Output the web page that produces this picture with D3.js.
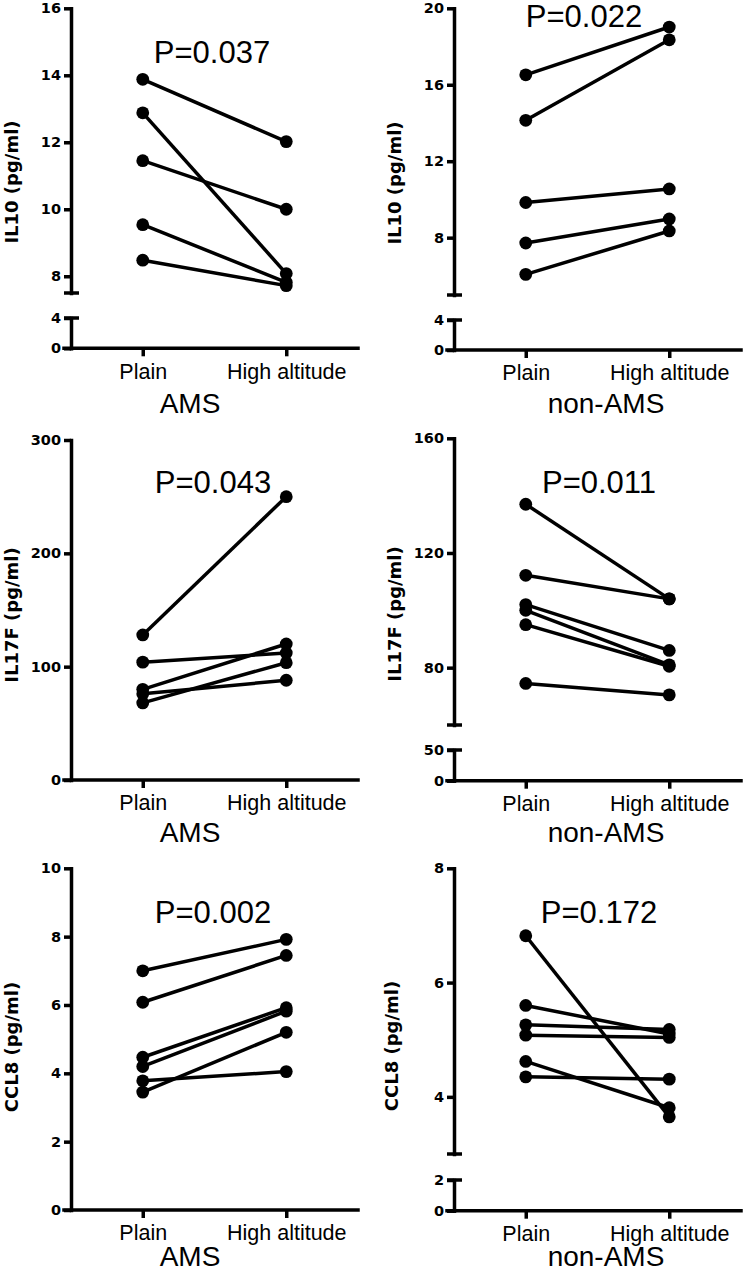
<!DOCTYPE html>
<html>
<head>
<meta charset="utf-8">
<script src="https://cdn.jsdelivr.net/npm/d3@7"></script>
<style>
  html, body { margin: 0; padding: 0; background: #fff; }
  svg { display: block; }
</style>
</head>
<body>
<svg id="chart" width="744" height="1272"></svg>
<script>
// ---------------- DATA ----------------
const groups = ["Plain", "High altitude"];
const conditions = ["AMS", "non-AMS", "AMS", "non-AMS", "AMS", "non-AMS"];
const yTitles = ["IL10 (pg/ml)", "IL10 (pg/ml)", "IL17F (pg/ml)", "IL17F (pg/ml)", "CCL8 (pg/ml)", "CCL8 (pg/ml)"];
const pLabels = ["P=0.037", "P=0.022", "P=0.043", "P=0.011", "P=0.002", "P=0.172"];

// paired values: plain[i] -> high[i]
const il10AmsPlain = [13.88, 12.88, 11.45, 9.54, 8.48];
const il10AmsHigh  = [12.02, 8.08, 10.0, 7.82, 7.72];
const il10NonPlain = [16.52, 14.14, 9.84, 7.72, 6.08];
const il10NonHigh  = [19.02, 18.35, 10.55, 8.98, 8.35];
const il17AmsPlain = [128, 104, 80, 76, 68];
const il17AmsHigh  = [250, 112, 120, 88, 103.5];
const il17NonPlain = [137, 112.2, 102, 100, 95, 74.5];
const il17NonHigh  = [104, 104, 86, 81, 80.5, 70.5];
const ccl8AmsPlain = [7.0, 6.08, 4.47, 4.2, 3.78, 3.45];
const ccl8AmsHigh  = [7.92, 7.45, 5.92, 5.82, 4.05, 5.2];
const ccl8NonPlain = [6.82, 5.6, 5.26, 5.08, 4.62, 4.35];
const ccl8NonHigh  = [3.65, 5.1, 5.18, 5.04, 3.81, 4.31];

// axis domains and ticks (upper segment / lower segment of broken axes)
const upperDomains = [[7.5, 16], [5, 20], [0, 300], [60, 160], [0, 10], [3, 8]];
const upperTicks = [[8, 10, 12, 14, 16], [8, 12, 16, 20], [0, 100, 200, 300], [80, 120, 160], [0, 2, 4, 6, 8, 10], [4, 6, 8]];
const lowerDomains = [[0, 4], [0, 4], null, [0, 50], null, [0, 2]];
const lowerTicks = [[0, 4], [0, 4], null, [0, 50], null, [0, 2]];

const plainSeries = [il10AmsPlain, il10NonPlain, il17AmsPlain, il17NonPlain, ccl8AmsPlain, ccl8NonPlain];
const highSeries  = [il10AmsHigh, il10NonHigh, il17AmsHigh, il17NonHigh, ccl8AmsHigh, ccl8NonHigh];

// ---------------- LAYOUT ----------------
const layout = [
  { ax: 71,  top: 8.3,   upBottom: 293,  lowTop: 318,  zero: 348.3, pX: 212, pY: 63,  condX: 190, condY: 413, titleX: 12,  titleY: 182 },
  { ax: 454, top: 8.3,   upBottom: 295,  lowTop: 320,  zero: 350,   pX: 584, pY: 27,  condX: 606, condY: 413, titleX: 395, titleY: 183 },
  { ax: 71,  top: 440,   upBottom: 780,  lowTop: null, zero: 780,   pX: 213, pY: 493, condX: 190, condY: 842, titleX: 12,  titleY: 615 },
  { ax: 454, top: 438.3, upBottom: 725,  lowTop: 750,  zero: 780.7, pX: 599, pY: 493, condX: 606, condY: 842, titleX: 395, titleY: 614 },
  { ax: 71,  top: 868.3, upBottom: 1210, lowTop: null, zero: 1210,  pX: 213, pY: 923, condX: 190, condY: 1266, titleX: 12, titleY: 1047 },
  { ax: 454, top: 868.3, upBottom: 1154, lowTop: 1180, zero: 1210.7, pX: 599, pY: 923, condX: 606, condY: 1266, titleX: 392, titleY: 1046 }
];

const svg = d3.select("#chart");
const SANS = "'Liberation Sans', Arial, sans-serif";
const BOLD = "'DejaVu Sans', Verdana, sans-serif";
const LW = 3.5;
const R = 6.4;

layout.forEach((L, i) => {
  const g = svg.append("g");
  const xScale = d3.scalePoint().domain(groups).range([L.ax, L.ax + 287]).padding(0.5);
  const yUp = d3.scaleLinear().domain(upperDomains[i]).range([L.upBottom, L.top]);

  // Upper y axis
  const axUp = g.append("g").attr("transform", `translate(${L.ax},0)`)
    .call(d3.axisLeft(yUp).tickValues(upperTicks[i]).tickSize(7).tickSizeOuter(0).tickPadding(3).tickFormat(d3.format("d")));
  styleAxis(axUp);
  axUp.selectAll("text").attr("font-family", BOLD).attr("font-weight", "bold").attr("font-size", 14.5);

  if (lowerDomains[i]) {
    const yLow = d3.scaleLinear().domain(lowerDomains[i]).range([L.zero, L.lowTop]);
    const axLow = g.append("g").attr("transform", `translate(${L.ax},0)`)
      .call(d3.axisLeft(yLow).tickValues(lowerTicks[i]).tickSize(7).tickSizeOuter(0).tickPadding(3).tickFormat(d3.format("d")));
    styleAxis(axLow);
    axLow.selectAll("text").attr("font-family", BOLD).attr("font-weight", "bold").attr("font-size", 14.5);
    // break caps
    g.append("line").attr("x1", L.ax - 7).attr("x2", L.ax + 8)
      .attr("y1", yUp(upperDomains[i][0])).attr("y2", yUp(upperDomains[i][0]))
      .attr("stroke", "#000").attr("stroke-width", LW);
    g.append("line").attr("x1", L.ax - 7).attr("x2", L.ax + 8)
      .attr("y1", yLow(lowerDomains[i][1])).attr("y2", yLow(lowerDomains[i][1]))
      .attr("stroke", "#000").attr("stroke-width", LW);
  }

  // X axis
  const axX = g.append("g").attr("transform", `translate(0,${L.zero})`)
    .call(d3.axisBottom(xScale).tickSize(8).tickSizeOuter(0).tickPadding(7));
  styleAxis(axX);
  axX.select(".domain").attr("d", `M${L.ax - 7},0H${L.ax + 287}`);
  axX.selectAll("text").attr("font-family", SANS).attr("font-size", 21.5);

  // paired lines
  const pairs = plainSeries[i].map((v, k) => [v, highSeries[i][k]]);
  g.selectAll("line.pair").data(pairs).enter().append("line")
    .attr("class", "pair")
    .attr("x1", xScale(groups[0])).attr("x2", xScale(groups[1]))
    .attr("y1", d => yUp(d[0])).attr("y2", d => yUp(d[1]))
    .attr("stroke", "#000").attr("stroke-width", LW);
  // dots
  g.selectAll("circle.pl").data(plainSeries[i]).enter().append("circle")
    .attr("cx", xScale(groups[0])).attr("cy", d => yUp(d)).attr("r", R).attr("fill", "#000");
  g.selectAll("circle.hi").data(highSeries[i]).enter().append("circle")
    .attr("cx", xScale(groups[1])).attr("cy", d => yUp(d)).attr("r", R).attr("fill", "#000");

  // P label
  g.append("text").attr("x", L.pX).attr("y", L.pY).attr("text-anchor", "middle")
    .attr("font-family", SANS).attr("font-size", 31).text(pLabels[i]);
  // condition label
  g.append("text").attr("x", L.condX).attr("y", L.condY).attr("text-anchor", "middle")
    .attr("font-family", SANS).attr("font-size", 28).text(conditions[i]);
  // y title
  g.append("text").attr("transform", `translate(${L.titleX},${L.titleY}) rotate(-90)`)
    .attr("text-anchor", "middle").attr("dy", "0.35em")
    .attr("font-family", BOLD).attr("font-weight", "bold").attr("font-size", 18).text(yTitles[i]);
});

function styleAxis(sel) {
  sel.select(".domain").attr("stroke", "#000").attr("stroke-width", LW).attr("stroke-linecap", "square");
  sel.selectAll(".tick line").attr("stroke", "#000").attr("stroke-width", LW);
  sel.selectAll("text").attr("fill", "#000");
}
</script>
</body>
</html>
